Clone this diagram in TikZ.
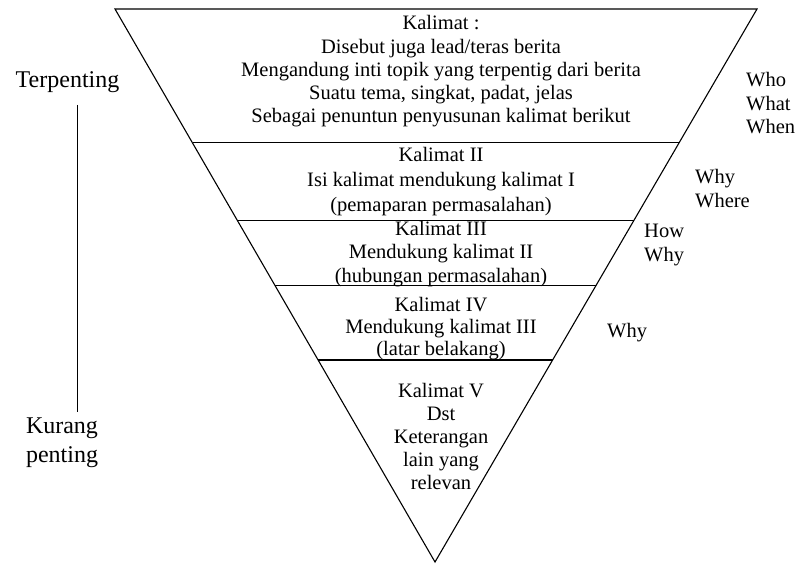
\documentclass[tikz,border=0pt]{standalone}
\usepackage{fontspec}
\setmainfont{Liberation Serif}
\usetikzlibrary{calc}
\begin{document}
\begin{tikzpicture}[x=1pt,y=-1pt,
  edge/.style={line width=1.1pt, line join=miter},
  divider/.style={line width=1pt},
  thickdivider/.style={line width=2.2pt},
  blocktext/.style={inner sep=0pt, align=center},
  sidetext/.style={inner sep=0pt, align=left, anchor=west, font=\fontsize{20.5}{23.5}\selectfont},
  ranktext/.style={inner sep=0pt, align=center, font=\fontsize{24}{29}\selectfont}]
\useasboundingbox (0,0) rectangle (797,564);
% triangle
\coordinate (TL) at (115,9);
\coordinate (TR) at (757,9);
\coordinate (B) at (435,562);
\draw[edge] (TL) -- (TR) -- (B) -- cycle;
% dividers
\draw[divider] ($(TL)!0.2423!(B)$) -- ($(TR)!0.2423!(B)$);
\draw[divider] ($(TL)!0.3816!(B)$) -- ($(TR)!0.3816!(B)$);
\draw[divider] ($(TL)!0.5009!(B)$) -- ($(TR)!0.5009!(B)$);
\draw[thickdivider] ($(TL)!0.6347!(B)$) -- ($(TR)!0.6347!(B)$);
% block texts
\node[blocktext, font=\fontsize{20.5}{23.3}\selectfont] (k1) at (441,71.5)
  {Kalimat :\\Disebut juga lead/teras berita\\Mengandung inti topik yang terpentig dari berita\\Suatu tema, singkat, padat, jelas\\Sebagai penuntun penyusunan kalimat berikut};
\node[blocktext, font=\fontsize{20.5}{25}\selectfont] (k2) at (441,182)
  {Kalimat II\\Isi kalimat mendukung kalimat I\\(pemaparan permasalahan)};
\node[blocktext, font=\fontsize{20.5}{23.5}\selectfont] (k3) at (441,254)
  {Kalimat III\\Mendukung kalimat II\\(hubungan permasalahan)};
\node[blocktext, font=\fontsize{20.5}{22}\selectfont] (k4) at (441,329)
  {Kalimat IV\\Mendukung kalimat III\\(latar belakang)};
\node[blocktext, font=\fontsize{20.5}{23}\selectfont] (k5) at (441,436)
  {Kalimat V\\Dst\\Keterangan\\lain yang\\relevan};
% side labels
\node[sidetext] (w1) at (746,103.5) {Who\\What\\When};
\node[sidetext] (w2) at (695,188.5) {Why\\Where};
\node[sidetext] (w3) at (644,245) {How\\Why};
\node[sidetext] (w4) at (607,333) {Why};
% importance scale
\node[ranktext] (top) at (67.5,82) {Terpenting};
\node[ranktext] (low) at (62,442.5) {Kurang\\penting};
\coordinate (lt) at (77,105);
\coordinate (lb) at (77,412);
\draw[line width=1pt] (lt) -- (lb);
\end{tikzpicture}
\end{document}
